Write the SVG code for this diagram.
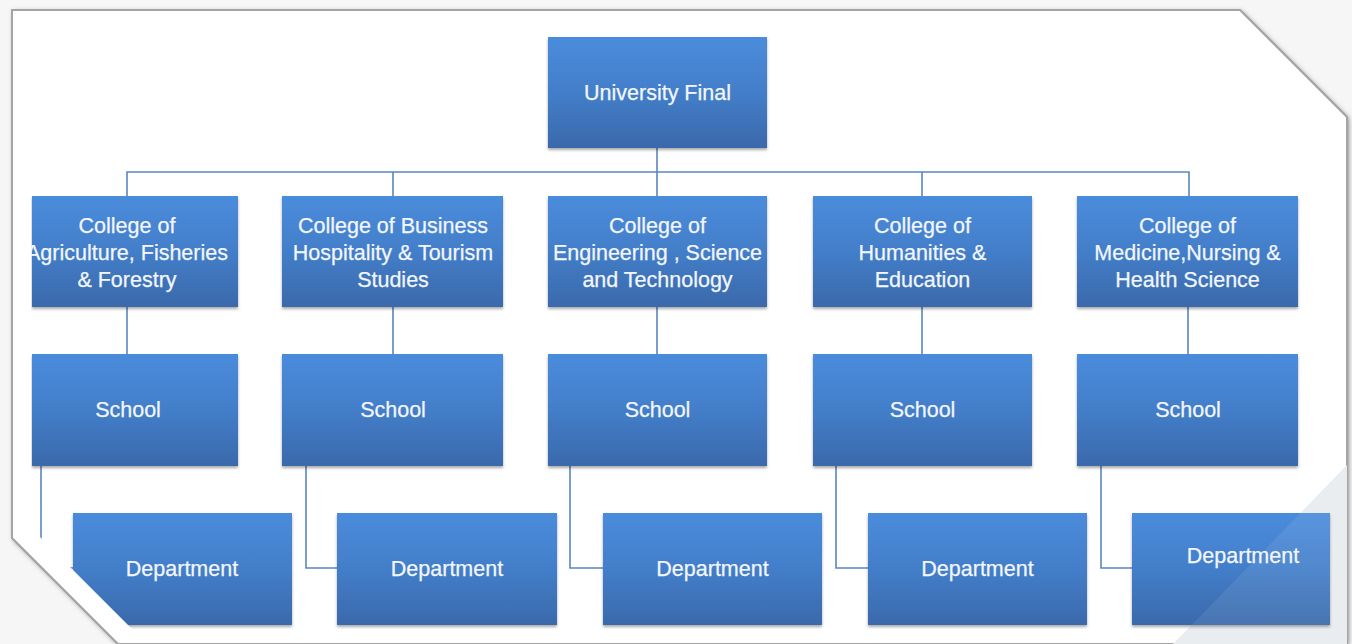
<svg xmlns="http://www.w3.org/2000/svg" width="1352" height="644" viewBox="0 0 1352 644">
<defs>
<linearGradient id="boxg" x1="0" y1="0" x2="0" y2="1">
<stop offset="0" stop-color="#4a8cdc"/>
<stop offset="0.5" stop-color="#437ec9"/>
<stop offset="1" stop-color="#3a69ab"/>
</linearGradient>
<filter id="shadow" x="-5%" y="-5%" width="110%" height="110%">
<feGaussianBlur stdDeviation="2.5"/>
</filter>
<filter id="bshadow" x="-5%" y="-5%" width="110%" height="115%">
<feGaussianBlur in="SourceAlpha" stdDeviation="1.5"/>
<feOffset dx="0" dy="1.5"/>
<feComponentTransfer><feFuncA type="linear" slope="0.35"/></feComponentTransfer>
<feMerge><feMergeNode/><feMergeNode in="SourceGraphic"/></feMerge>
</filter>
<clipPath id="content">
<polygon points="31,0 1352,0 1352,644 147,644 31,528"/>
</clipPath>
<style>
.box{fill:url(#boxg);filter:url(#bshadow);}
.t{font-family:"Liberation Sans",Arial,sans-serif;font-size:21.5px;fill:#f3f6fb;stroke:#f3f6fb;stroke-width:0.25;text-anchor:middle;}
.ln{fill:none;stroke:#5a87c0;stroke-width:1.6;}
</style>
</defs>
<rect width="1352" height="644" fill="#f6f6f6"/>
<polygon points="12,10 1240,10 1347,117 1347,644 118,644 12,538" fill="#7a7a7a" filter="url(#shadow)" transform="translate(1.5,1.5)"/>
<polygon points="12,10 1240,10 1347,117 1347,644 118,644 12,538" fill="#ffffff" stroke="#a4a4a4" stroke-width="2"/>
<polygon points="1347,465 1347,644 1173,644" fill="#e9ecef"/>
<g clip-path="url(#content)">
<g id="connectors">
<path class="ln" d="M657,148 V196 M127,196 V172 H1189 V196 M393,172 V196 M922,172 V196"/>
<path class="ln" d="M127,307 V354 M393,307 V354 M657,307 V354 M922,307 V354 M1188,307 V354"/>
<path class="ln" d="M41,466 V568 H73 M306,466 V568 H337 M570,466 V568 H603 M836,466 V568 H868 M1101,466 V568 H1132"/>
</g>
<g id="university">
<rect class="box" x="548" y="37" width="219" height="111"/>
<text class="t" x="657.5" y="100">University Final</text>
</g>
<g id="college-agriculture">
<rect class="box" x="32" y="196" width="206" height="111"/>
<text class="t" x="127" y="233">College of</text>
<text class="t" x="127" y="260">Agriculture, Fisheries</text>
<text class="t" x="127" y="287">&amp; Forestry</text>
</g>
<g id="college-business">
<rect class="box" x="282" y="196" width="221" height="111"/>
<text class="t" x="393" y="233">College of Business</text>
<text class="t" x="393" y="260">Hospitality &amp; Tourism</text>
<text class="t" x="393" y="287">Studies</text>
</g>
<g id="college-engineering">
<rect class="box" x="548" y="196" width="219" height="111"/>
<text class="t" x="657.5" y="233">College of</text>
<text class="t" x="657.5" y="260">Engineering , Science</text>
<text class="t" x="657.5" y="287">and Technology</text>
</g>
<g id="college-humanities">
<rect class="box" x="813" y="196" width="219" height="111"/>
<text class="t" x="922.5" y="233">College of</text>
<text class="t" x="922.5" y="260">Humanities &amp;</text>
<text class="t" x="922.5" y="287">Education</text>
</g>
<g id="college-medicine">
<rect class="box" x="1077" y="196" width="221" height="111"/>
<text class="t" x="1187.5" y="233">College of</text>
<text class="t" x="1187.5" y="260">Medicine,Nursing &amp;</text>
<text class="t" x="1187.5" y="287">Health Science</text>
</g>
<g id="school-1">
<rect class="box" x="32" y="354" width="206" height="112"/>
<text class="t" x="128" y="417">School</text>
</g>
<g id="school-2">
<rect class="box" x="282" y="354" width="221" height="112"/>
<text class="t" x="393" y="417">School</text>
</g>
<g id="school-3">
<rect class="box" x="548" y="354" width="219" height="112"/>
<text class="t" x="657.5" y="417">School</text>
</g>
<g id="school-4">
<rect class="box" x="813" y="354" width="219" height="112"/>
<text class="t" x="922.5" y="417">School</text>
</g>
<g id="school-5">
<rect class="box" x="1077" y="354" width="221" height="112"/>
<text class="t" x="1188" y="417">School</text>
</g>
<g id="department-1">
<rect class="box" x="73" y="513" width="219" height="112"/>
<text class="t" x="182" y="576">Department</text>
</g>
<g id="department-2">
<rect class="box" x="337" y="513" width="220" height="112"/>
<text class="t" x="447" y="576">Department</text>
</g>
<g id="department-3">
<rect class="box" x="603" y="513" width="219" height="112"/>
<text class="t" x="712.5" y="576">Department</text>
</g>
<g id="department-4">
<rect class="box" x="868" y="513" width="219" height="112"/>
<text class="t" x="977.5" y="576">Department</text>
</g>
<g id="department-5">
<rect class="box" x="1132" y="513" width="198" height="112"/>
<text class="t" x="1243" y="563">Department</text>
</g>
</g>
<polygon points="1347,465 1347,644 1173,644" fill="#ffffff" fill-opacity="0.08"/>
</svg>
